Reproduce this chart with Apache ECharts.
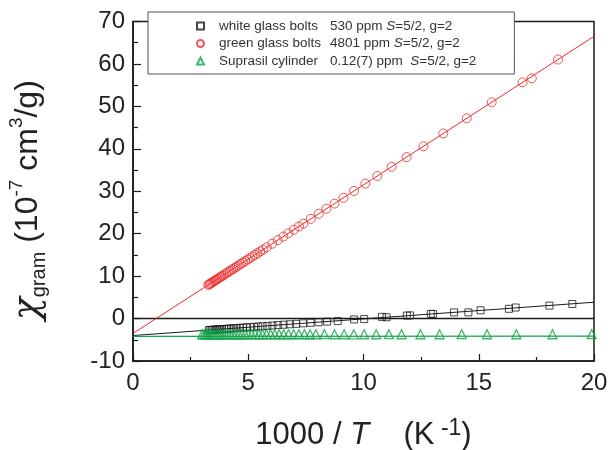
<!DOCTYPE html>
<html>
<head>
<meta charset="utf-8">
<script src="https://cdn.jsdelivr.net/npm/echarts@6/dist/echarts.min.js"></script>
<style>html,body{margin:0;padding:0;background:#fff;}#c{width:610px;height:450px;}</style>
</head>
<body>
<div id="c"></div>
<script>
// ---- data ----
const whiteX = [3.30,3.36,3.42,3.48,3.55,3.62,3.70,3.78,3.86,3.95,4.05,4.15,4.26,4.38,4.50,4.63,4.77,4.92,5.08,5.25,5.43,5.62,5.83,6.05,6.28,6.53,6.80,7.08,7.38,7.70,8.05,8.42,8.88,9.59,10.03,10.80,11.00,11.88,12.02,12.92,13.02,13.93,14.55,15.08,16.31,16.60,18.07,19.06];
const whiteY = [-2.71,-2.69,-2.67,-2.64,-2.62,-2.59,-2.56,-2.53,-2.49,-2.46,-2.42,-2.38,-2.34,-2.29,-2.25,-2.19,-2.14,-2.08,-2.02,-1.95,-1.88,-1.81,-1.73,-1.64,-1.55,-1.45,-1.35,-1.24,-1.12,-1.00,-0.86,-0.72,-0.60,-0.20,-0.12,0.40,0.30,0.70,0.75,1.10,1.10,1.45,1.45,1.95,2.30,2.60,3.05,3.43];
const greenX = [3.27,3.31,3.35,3.40,3.45,3.50,3.55,3.60,3.66,3.72,3.78,3.84,3.90,3.97,4.04,4.11,4.18,4.26,4.34,4.42,4.50,4.59,4.68,4.77,4.87,4.97,5.07,5.18,5.29,5.40,5.52,5.64,5.80,6.04,6.28,6.52,6.74,6.98,7.20,7.39,7.71,8.06,8.39,8.74,9.13,9.59,10.08,10.60,11.22,11.87,12.60,13.46,14.48,15.56,16.90,17.30,18.44];
const greenY = [7.95,8.09,8.23,8.40,8.58,8.75,8.93,9.10,9.31,9.52,9.73,9.94,10.15,10.40,10.64,10.89,11.13,11.41,11.69,11.97,12.25,12.57,12.88,13.20,13.55,13.90,14.25,14.63,15.02,15.40,15.82,16.24,16.80,17.64,18.48,19.32,20.09,20.93,21.70,22.37,23.49,24.71,25.87,27.09,28.46,30.07,31.78,33.60,35.77,38.05,40.60,43.61,47.18,50.96,55.65,56.60,61.04];
const supraX = [3.00,3.08,3.15,3.22,3.30,3.37,3.45,3.53,3.62,3.71,3.80,3.90,4.00,4.11,4.22,4.34,4.46,4.59,4.72,4.86,5.00,5.15,5.30,5.46,5.62,5.79,5.97,6.15,6.34,6.54,6.75,6.97,7.20,7.44,7.68,7.93,8.30,8.74,9.16,9.58,10.03,10.55,11.10,11.65,12.47,13.30,14.26,15.36,16.63,18.20,19.90];
const supraY = [-3.70,-3.70,-3.71,-3.70,-3.69,-3.70,-3.71,-3.70,-3.70,-3.69,-3.70,-3.71,-3.70,-3.70,-3.69,-3.70,-3.70,-3.71,-3.70,-3.70,-3.69,-3.70,-3.70,-3.71,-3.70,-3.70,-3.69,-3.70,-3.70,-3.71,-3.70,-3.70,-3.69,-3.70,-3.70,-3.70,-3.69,-3.70,-3.70,-3.71,-3.70,-3.70,-3.69,-3.70,-3.70,-3.70,-3.69,-3.70,-3.70,-3.70,-3.69];
// fit lines (endpoints)
const fitX = [0, 20];
const whiteFitY = [-4.0, 3.85];
const greenFitY = [-3.5, 66.5];
const supraFitY = [-4.2, -4.15];
const zeroY = [0, 0];
const xTicks = {min: 0, max: 20, interval: 5};
const yTicks = {min: -10, max: 70, interval: 10};

const pair = (xs, ys) => xs.map((x, i) => [x, ys[i]]);
const FONT = 'Liberation Sans';
const RED = '#ee2a2a', GRN = '#12a54a', BLK = '#1a1a1a';

const chart = echarts.init(document.getElementById('c'), null, {renderer: 'canvas'});
chart.setOption({
  animation: false,
  backgroundColor: '#fff',
  grid: {left: 133, right: 16, top: 21.5, bottom: 89, show: true, borderColor: BLK, borderWidth: 1.5,
    backgroundColor: 'transparent', containLabel: false, outerBoundsMode: 'none'},
  legend: {
    data: ['white', 'green', 'supra'],
    orient: 'vertical', left: 148, top: 12,
    padding: [7, 38, 6, 48], itemGap: 3.5,
    itemWidth: 7, itemHeight: 7,
    backgroundColor: '#fff', borderColor: '#555', borderWidth: 1,
    formatter: function (n) {
      if (n === 'white') return '{a|white glass bolts}{b|530 ppm }{i|S}{b|=5/2, g=2}';
      if (n === 'green') return '{a|green glass bolts}{b|4801 ppm }{i|S}{b|=5/2, g=2}';
      return '{a|Suprasil cylinder}{b|0.12(7) ppm  }{i|S}{b|=5/2, g=2}';
    },
    textStyle: {
      fontFamily: FONT, fontSize: 13.5, color: '#333', padding: [0, 0, 0, 10],
      rich: {
        a: {fontFamily: FONT, fontSize: 13.5, color: '#333', width: 111, lineHeight: 14},
        b: {fontFamily: FONT, fontSize: 13.5, color: '#333', lineHeight: 14},
        i: {fontFamily: FONT, fontSize: 13.5, color: '#333', fontStyle: 'italic', lineHeight: 14}
      }
    }
  },
  xAxis: {
    type: 'value', min: xTicks.min, max: xTicks.max, interval: xTicks.interval,
    axisLine: {show: true, onZero: false, lineStyle: {color: BLK, width: 1.5}},
    axisTick: {show: true, inside: true, length: 7, lineStyle: {color: BLK, width: 1.2}},
    minorTick: {show: true, splitNumber: 2, length: 4, lineStyle: {color: BLK, width: 1.2}},
    splitLine: {show: false},
    axisLabel: {fontFamily: FONT, fontSize: 24, color: '#222', margin: 10},
    name: '{n|1000 / }{i|T}{n|    (K}{s| -1}{n|)}',
    nameLocation: 'middle', nameGap: 56,
    nameTextStyle: {
      fontFamily: FONT, fontSize: 31, color: '#222',
      rich: {
        n: {fontFamily: FONT, fontSize: 31, color: '#222', lineHeight: 34, verticalAlign: 'bottom'},
        i: {fontFamily: FONT, fontSize: 31, color: '#222', fontStyle: 'italic', lineHeight: 34, verticalAlign: 'bottom'},
        s: {fontFamily: FONT, fontSize: 23, color: '#222', lineHeight: 34, verticalAlign: 'top', padding: [0, 0, 11, 0]}
      }
    }
  },
  yAxis: {
    type: 'value', min: yTicks.min, max: yTicks.max, interval: yTicks.interval,
    axisLine: {show: true, onZero: false, lineStyle: {color: BLK, width: 1.5}},
    axisTick: {show: true, inside: true, length: 8, lineStyle: {color: BLK, width: 1.2}},
    minorTick: {show: true, splitNumber: 2, length: 5, lineStyle: {color: BLK, width: 1.2}},
    splitLine: {show: false},
    axisLabel: {fontFamily: FONT, fontSize: 24, color: '#222', margin: 8},
    name: '{c|χ}{g|gram}{n| (10}{s|-7}{n| cm}{s|3}{n|/g)}',
    nameLocation: 'middle', nameRotate: 90, nameGap: 84,
    nameTextStyle: {
      fontFamily: FONT, fontSize: 32, color: '#222', padding: [0, 18, 0, 0],
      rich: {
        c: {fontFamily: 'DejaVu Serif', fontSize: 38, color: '#222', fontStyle: 'italic', lineHeight: 42, verticalAlign: 'middle'},
        g: {fontFamily: FONT, fontSize: 20, color: '#222', lineHeight: 42, verticalAlign: 'bottom'},
        n: {fontFamily: FONT, fontSize: 32, color: '#222', lineHeight: 42, verticalAlign: 'middle'},
        s: {fontFamily: FONT, fontSize: 19, color: '#222', lineHeight: 42, verticalAlign: 'top'}
      }
    }
  },
  series: [
    {type: 'line', name: 'zero', data: pair(fitX, zeroY), showSymbol: false, silent: true, lineStyle: {color: BLK, width: 1.6}, z: 1},
    {type: 'line', name: 'wfit', data: pair(fitX, whiteFitY), showSymbol: false, lineStyle: {color: BLK, width: 1}, z: 2},
    {type: 'line', name: 'gfit', data: pair(fitX, greenFitY), showSymbol: false, lineStyle: {color: RED, width: 1}, z: 2},
    {type: 'line', name: 'sfit', data: pair(fitX, supraFitY), showSymbol: false, lineStyle: {color: GRN, width: 1.2}, z: 2},
    {type: 'scatter', name: 'white', data: pair(whiteX, whiteY), symbol: 'rect', symbolSize: 7,
      itemStyle: {color: 'transparent', borderColor: BLK, borderWidth: 1}, z: 3},
    {type: 'scatter', name: 'green', data: pair(greenX, greenY), symbol: 'circle', symbolSize: 9,
      itemStyle: {color: 'transparent', borderColor: RED, borderWidth: 1}, z: 3},
    {type: 'scatter', name: 'supra', data: pair(supraX, supraY), symbol: 'triangle', symbolSize: 9,
      itemStyle: {color: 'transparent', borderColor: GRN, borderWidth: 1.3}, z: 3}
  ]
});
</script>
</body>
</html>
